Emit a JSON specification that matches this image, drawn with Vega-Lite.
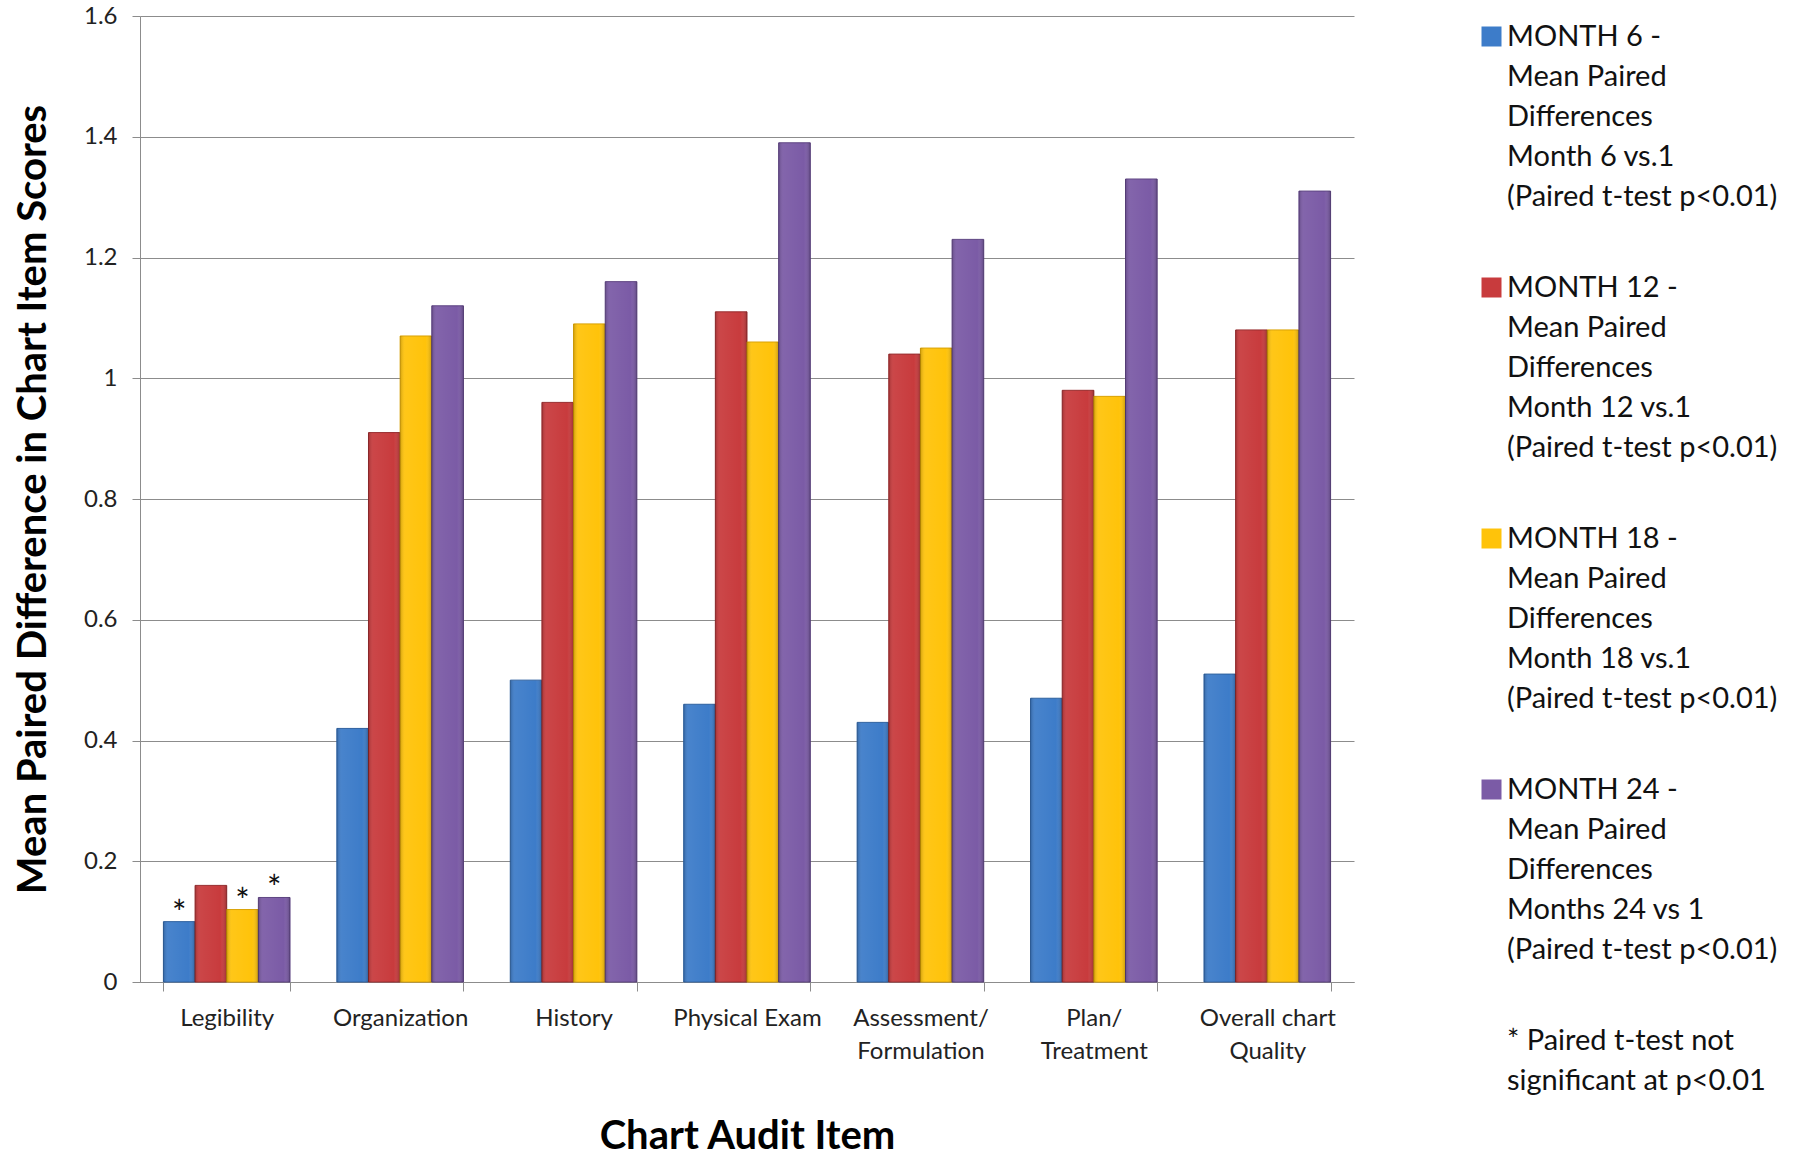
{
  "$schema": "https://vega.github.io/schema/vega-lite/v6.json",
  "width": 1214,
  "height": 966,
  "autosize": {"type": "none"},
  "padding": {"left": 140, "top": 16, "right": 441, "bottom": 178},
  "background": "white",
  "config": {
    "font": "Lato",
    "view": {"stroke": null},
    "axis": {"labelColor": "#222222", "titleColor": "#000000"}
  },
  "data": {
    "values": [
      {"item": "Legibility", "series": "MONTH 6  -|Mean Paired|Differences|Month  6 vs.1|(Paired t-test p<0.01)", "value": 0.10, "star": "*"},
      {"item": "Legibility", "series": "MONTH 12 -|Mean Paired|Differences|Month 12 vs.1|(Paired t-test p<0.01)", "value": 0.16, "star": ""},
      {"item": "Legibility", "series": "MONTH 18 -|Mean Paired|Differences|Month 18 vs.1|(Paired t-test p<0.01)", "value": 0.12, "star": "*"},
      {"item": "Legibility", "series": "MONTH 24 -|Mean Paired|Differences|Months 24 vs 1|(Paired t-test p<0.01)", "value": 0.14, "star": "*"},
      {"item": "Organization", "series": "MONTH 6  -|Mean Paired|Differences|Month  6 vs.1|(Paired t-test p<0.01)", "value": 0.42, "star": ""},
      {"item": "Organization", "series": "MONTH 12 -|Mean Paired|Differences|Month 12 vs.1|(Paired t-test p<0.01)", "value": 0.91, "star": ""},
      {"item": "Organization", "series": "MONTH 18 -|Mean Paired|Differences|Month 18 vs.1|(Paired t-test p<0.01)", "value": 1.07, "star": ""},
      {"item": "Organization", "series": "MONTH 24 -|Mean Paired|Differences|Months 24 vs 1|(Paired t-test p<0.01)", "value": 1.12, "star": ""},
      {"item": "History", "series": "MONTH 6  -|Mean Paired|Differences|Month  6 vs.1|(Paired t-test p<0.01)", "value": 0.50, "star": ""},
      {"item": "History", "series": "MONTH 12 -|Mean Paired|Differences|Month 12 vs.1|(Paired t-test p<0.01)", "value": 0.96, "star": ""},
      {"item": "History", "series": "MONTH 18 -|Mean Paired|Differences|Month 18 vs.1|(Paired t-test p<0.01)", "value": 1.09, "star": ""},
      {"item": "History", "series": "MONTH 24 -|Mean Paired|Differences|Months 24 vs 1|(Paired t-test p<0.01)", "value": 1.16, "star": ""},
      {"item": "Physical Exam", "series": "MONTH 6  -|Mean Paired|Differences|Month  6 vs.1|(Paired t-test p<0.01)", "value": 0.46, "star": ""},
      {"item": "Physical Exam", "series": "MONTH 12 -|Mean Paired|Differences|Month 12 vs.1|(Paired t-test p<0.01)", "value": 1.11, "star": ""},
      {"item": "Physical Exam", "series": "MONTH 18 -|Mean Paired|Differences|Month 18 vs.1|(Paired t-test p<0.01)", "value": 1.06, "star": ""},
      {"item": "Physical Exam", "series": "MONTH 24 -|Mean Paired|Differences|Months 24 vs 1|(Paired t-test p<0.01)", "value": 1.39, "star": ""},
      {"item": "Assessment/|Formulation", "series": "MONTH 6  -|Mean Paired|Differences|Month  6 vs.1|(Paired t-test p<0.01)", "value": 0.43, "star": ""},
      {"item": "Assessment/|Formulation", "series": "MONTH 12 -|Mean Paired|Differences|Month 12 vs.1|(Paired t-test p<0.01)", "value": 1.04, "star": ""},
      {"item": "Assessment/|Formulation", "series": "MONTH 18 -|Mean Paired|Differences|Month 18 vs.1|(Paired t-test p<0.01)", "value": 1.05, "star": ""},
      {"item": "Assessment/|Formulation", "series": "MONTH 24 -|Mean Paired|Differences|Months 24 vs 1|(Paired t-test p<0.01)", "value": 1.23, "star": ""},
      {"item": "Plan/|Treatment", "series": "MONTH 6  -|Mean Paired|Differences|Month  6 vs.1|(Paired t-test p<0.01)", "value": 0.47, "star": ""},
      {"item": "Plan/|Treatment", "series": "MONTH 12 -|Mean Paired|Differences|Month 12 vs.1|(Paired t-test p<0.01)", "value": 0.98, "star": ""},
      {"item": "Plan/|Treatment", "series": "MONTH 18 -|Mean Paired|Differences|Month 18 vs.1|(Paired t-test p<0.01)", "value": 0.97, "star": ""},
      {"item": "Plan/|Treatment", "series": "MONTH 24 -|Mean Paired|Differences|Months 24 vs 1|(Paired t-test p<0.01)", "value": 1.33, "star": ""},
      {"item": "Overall chart|Quality", "series": "MONTH 6  -|Mean Paired|Differences|Month  6 vs.1|(Paired t-test p<0.01)", "value": 0.51, "star": ""},
      {"item": "Overall chart|Quality", "series": "MONTH 12 -|Mean Paired|Differences|Month 12 vs.1|(Paired t-test p<0.01)", "value": 1.08, "star": ""},
      {"item": "Overall chart|Quality", "series": "MONTH 18 -|Mean Paired|Differences|Month 18 vs.1|(Paired t-test p<0.01)", "value": 1.08, "star": ""},
      {"item": "Overall chart|Quality", "series": "MONTH 24 -|Mean Paired|Differences|Months 24 vs 1|(Paired t-test p<0.01)", "value": 1.31, "star": ""}
    ]
  },
  "encoding": {
    "x": {
      "field": "item",
      "type": "nominal",
      "sort": ["Legibility", "Organization", "History", "Physical Exam", "Assessment/|Formulation", "Plan/|Treatment", "Overall chart|Quality"],
      "scale": {"paddingInner": 0.27, "paddingOuter": 0.135},
      "axis": {
        "title": "Chart Audit Item",
        "titleFontSize": 40,
        "titleFontWeight": "bold",
        "titlePadding": 53,
        "labelAngle": 0,
        "labelFontSize": 24,
        "labelBaseline": "top",
        "labelLineHeight": 33,
        "labelPadding": 15,
        "labelExpr": "split(datum.label, '|')",
        "tickBand": "extent",
        "tickSize": 9,
        "tickColor": "#8c8c8c",
        "domainColor": "#8c8c8c",
        "grid": false
      }
    },
    "xOffset": {
      "field": "series",
      "type": "nominal",
      "sort": ["MONTH 6  -|Mean Paired|Differences|Month  6 vs.1|(Paired t-test p<0.01)", "MONTH 12 -|Mean Paired|Differences|Month 12 vs.1|(Paired t-test p<0.01)", "MONTH 18 -|Mean Paired|Differences|Month 18 vs.1|(Paired t-test p<0.01)", "MONTH 24 -|Mean Paired|Differences|Months 24 vs 1|(Paired t-test p<0.01)"],
      "scale": {"paddingInner": 0, "paddingOuter": 0}
    },
    "y": {
      "field": "value",
      "type": "quantitative",
      "scale": {"domain": [0, 1.6], "nice": false},
      "axis": {
        "title": "Mean Paired Difference in Chart Item Scores",
        "titleFontSize": 40,
        "titleFontWeight": "bold",
        "titlePadding": 30,
        "values": [0, 0.2, 0.4, 0.6, 0.8, 1, 1.2, 1.4, 1.6],
        "format": "~g",
        "labelFontSize": 24,
        "labelPadding": 15,
        "tickSize": 8,
        "tickColor": "#8c8c8c",
        "domainColor": "#8c8c8c",
        "grid": true,
        "gridColor": "#8c8c8c",
        "gridOpacity": 1
      }
    }
  },
  "layer": [
    {
      "mark": {"type": "bar", "strokeWidth": 1},
      "encoding": {
        "color": {
          "field": "series",
          "type": "nominal",
          "scale": {
            "domain": ["MONTH 6  -|Mean Paired|Differences|Month  6 vs.1|(Paired t-test p<0.01)", "MONTH 12 -|Mean Paired|Differences|Month 12 vs.1|(Paired t-test p<0.01)", "MONTH 18 -|Mean Paired|Differences|Month 18 vs.1|(Paired t-test p<0.01)", "MONTH 24 -|Mean Paired|Differences|Months 24 vs 1|(Paired t-test p<0.01)", "* Paired t-test not|significant at p<0.01"],
            "range": ["#3D7CC9", "#C83B3D", "#FFC30A", "#7B5BA6", "rgba(255,255,255,0)"]
          },
          "legend": {
            "title": null,
            "orient": "none",
            "legendX": 1337,
            "legendY": 6,
            "padding": 0,
            "symbolType": "square",
            "symbolSize": 400,
            "symbolStrokeWidth": 0,
            "symbolOpacity": 1,
            "labelFont": "Lato",
            "labelFontSize": 29,
            "labelBaseline": "middle",
            "labelOffset": 1,
            "labelLimit": 0,
            "labelColor": "#111111",
            "labelExpr": "split(datum.label, '|')",
            "rowPadding": 61,
            "encode": {"labels": {"update": {"lineHeight": {"value": 40}}}}
          }
        },
        "stroke": {
          "field": "series",
          "type": "nominal",
          "scale": {
            "domain": ["MONTH 6  -|Mean Paired|Differences|Month  6 vs.1|(Paired t-test p<0.01)", "MONTH 12 -|Mean Paired|Differences|Month 12 vs.1|(Paired t-test p<0.01)", "MONTH 18 -|Mean Paired|Differences|Month 18 vs.1|(Paired t-test p<0.01)", "MONTH 24 -|Mean Paired|Differences|Months 24 vs 1|(Paired t-test p<0.01)"],
            "range": ["#2C5F9E", "#962A2C", "#D9A000", "#5C4280"]
          },
          "legend": null
        }
      }
    },
    {
      "mark": {
        "type": "bar",
        "color": {
          "gradient": "linear", "x1": 0, "x2": 1, "y1": 0, "y2": 0,
          "stops": [
            {"offset": 0, "color": "rgba(0,0,0,0.18)"},
            {"offset": 0.15, "color": "rgba(255,255,255,0.06)"},
            {"offset": 0.8, "color": "rgba(255,255,255,0.0)"},
            {"offset": 1, "color": "rgba(0,0,0,0.22)"}
          ]
        }
      },
      "encoding": {}
    },
    {
      "mark": {"type": "text", "fontSize": 34, "baseline": "alphabetic", "dy": 3, "color": "#111111", "font": "Lato"},
      "encoding": {"text": {"field": "star"}}
    }
  ]
}
